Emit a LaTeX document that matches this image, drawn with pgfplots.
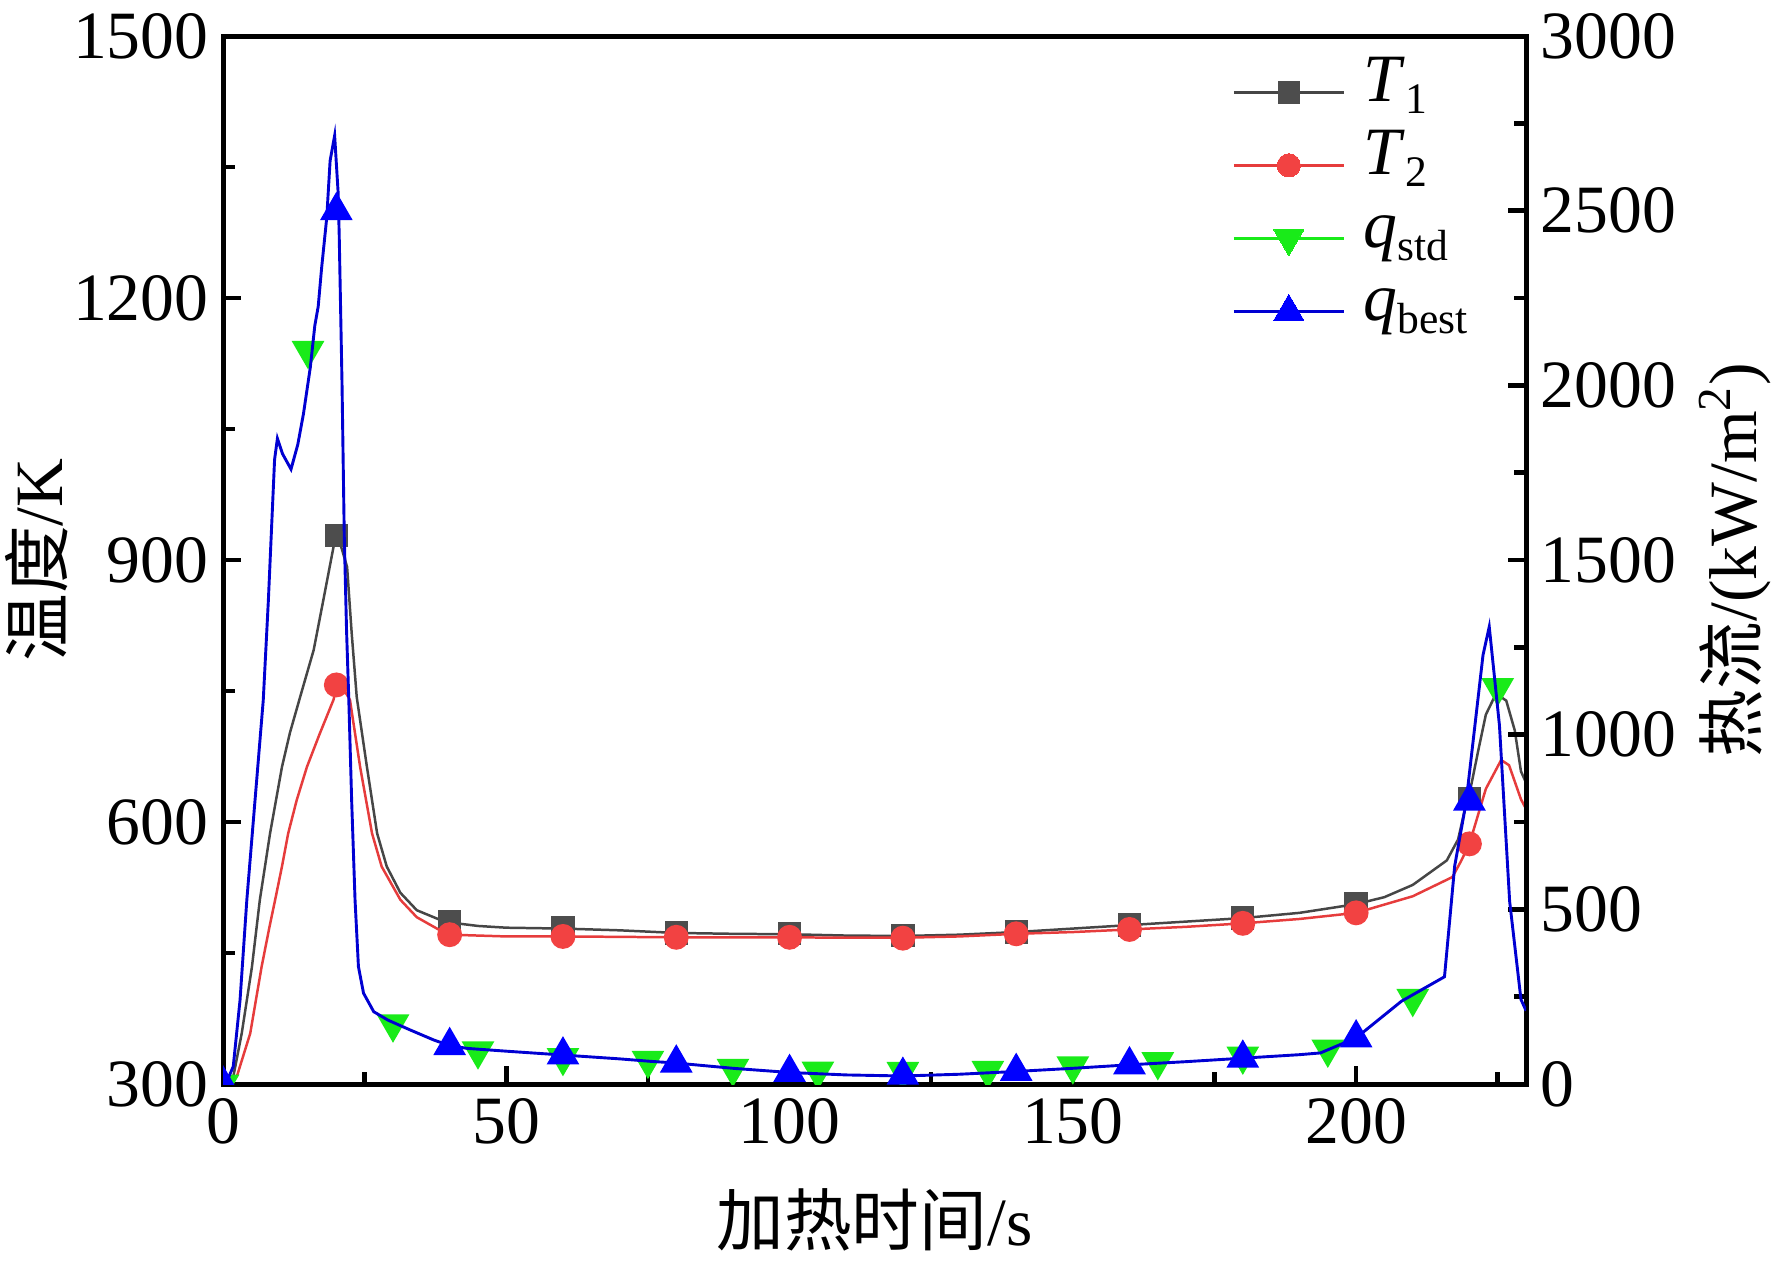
\documentclass[border=0pt]{standalone}
\usepackage{fontspec}
\setmainfont{Liberation Serif}
\newfontfamily\cjk{Noto Sans CJK SC}
\usepackage{pgfplots}
\pgfplotsset{compat=1.18}
\usetikzlibrary{calc}

\definecolor{cT1}{RGB}{77,77,77}
\definecolor{cT1l}{RGB}{70,70,70}
\definecolor{cT2}{RGB}{242,66,66}
\definecolor{cT2l}{RGB}{230,60,60}
\definecolor{cq1}{RGB}{25,235,25}
\definecolor{cq2}{RGB}{0,0,255}
\definecolor{cq2l}{RGB}{0,0,210}

\newcommand{\fs}{\fontsize{16.3}{19.5}\selectfont}
\newcommand{\sub}[1]{\raisebox{-3pt}{\fontsize{10.5}{12}\selectfont #1}}

\begin{document}
\begin{tikzpicture}
\pgfplotsset{
  base/.style={
    width=11.03cm, height=8.871cm, scale only axis,
    xmin=0, xmax=230,
    axis line style={line width=1.2pt},
    major tick length=0.155cm, minor tick length=0.105cm,
    every tick/.style={black, line width=1.1pt},
    tick align=inside,
    tick label style={font=\fs},
    /pgf/number format/assume math mode=true,
    /pgf/number format/1000 sep={},
    scaled ticks=false,
    clip marker paths=true,
  },
  T1s/.style={color=cT1l, line width=0.6pt, mark=square*, mark size=2.6pt, mark options={fill=cT1, draw=cT1, line width=0pt}},
  T2s/.style={color=cT2l, line width=0.6pt, mark=*, mark size=2.8pt, mark options={fill=cT2, draw=cT2, line width=0pt}},
  q1s/.style={color=cq1, line width=0.6pt, mark=triangle*, mark size=4.15pt, mark options={fill=cq1, draw=cq1, line width=0pt, rotate=180}},
  q2s/.style={color=cq2l, line width=0.7pt, mark=triangle*, mark size=4.15pt, mark options={fill=cq2, draw=cq2, line width=0pt}},
}
\begin{axis}[base, name=main,
  ymin=300, ymax=1500,
  xtick={0,50,...,200}, minor xtick={25,75,...,225},
  ytick={300,600,...,1500}, minor ytick={450,750,1050,1350},
  xtick pos=bottom, ytick pos=left,
  xlabel={{\cjk 加热时间}/s}, ylabel={{\cjk 温度}/K},
  every axis x label/.style={at={(0.5,-0.13)}, anchor=center, font=\fs},
  every axis y label/.style={at={(-0.1427,0.5)}, anchor=center, rotate=90, font=\fs},
  ]
% T1 line
\addplot[color=cT1l, line width=0.6pt, forget plot] coordinates {
(0,300)(1,302)(1.8,308)(3.3,358)(5.1,434)(6.5,511)(8.3,587)(10.4,663)(11.8,702)(13.6,743)(16,797)(17.7,854)(19.5,915)(20.1,930)(21,912)(21.9,892)(22.7,817)(23.6,743)(25.4,663)(27.2,587)(28.9,549)(31.3,519)(34.2,499)(38.3,488)(40,485)(45,481)(50,479)(60,478)(70,476)(80,473)(90,472)(100,471.5)(110,470)(120,469.5)(130,471)(140,474)(150,478)(160,482)(170,486)(180,490)(190,496)(200,506)(205,514)(210,528)(216,556)(218,580)(219.4,620)(220,632)(221.5,680)(222.9,723)(224.7,747)(226.5,739)(228,705)(229.1,658)(230,645)
};
\addplot[only marks, mark=square*, mark size=2.6pt, color=cT1, forget plot] coordinates {
(20,928)(40,486)(60,479)(80,473)(100,472)(120,470)(140,474)(160,482)(180,490)(200,506)(220,627)
};
% T2 line
\addplot[color=cT2l, line width=0.6pt, forget plot] coordinates {
(0,300)(1.6,301)(2.5,310)(4.8,358)(6.8,434)(8.2,480)(9.2,511)(10.4,549)(11.5,587)(13,625)(14.8,663)(17,700)(19.5,740)(20.1,757)(21,755)(22.4,740)(24.2,663)(26.3,587)(28,549)(31.3,511)(34.2,491)(38.3,476)(40,471)(50,469)(60,469)(70,468.5)(80,468)(90,468)(100,468)(110,467.5)(120,467.5)(130,469)(140,472)(150,474)(160,477)(170,480)(180,484)(190,489)(200,496)(210,515)(217,537)(218.5,555)(220,575)(222.9,638)(225.6,671)(227,665)(229.1,626)(230,615)
};
\addplot[only marks, mark=*, mark size=2.8pt, color=cT2, forget plot] coordinates {
(20,757)(40,471)(60,469)(80,468)(100,468)(120,467)(140,472)(160,477)(180,484)(200,496)(220,575)
};
\end{axis}

\begin{axis}[base,
  ymin=0, ymax=3000,
  xtick=\empty,
  ytick={0,500,...,3000}, minor ytick={250,750,...,2750},
  ytick pos=right, yticklabel pos=right,
  ylabel={{\cjk 热流}/(kW/m\textsuperscript{2})},
  every axis y label/.style={at={(1.1604,0.5)}, anchor=center, rotate=90, font=\fs},
  legend style={at={(0.774,0.982)}, anchor=north west, draw=none, fill=none, inner sep=0pt,
    font=\fs, row sep=0pt, nodes={inner xsep=4.5pt, inner ysep=0pt, text height=11pt, text depth=6.6pt}},
  legend cell align=left,
  legend image code/.code={\draw[mark repeat=2,mark phase=2] plot coordinates {(0cm,0cm) (0.465cm,0cm) (0.93cm,0cm)};},
  ]
\addlegendimage{T1s}
\addlegendentry{\textit{T}\sub{1}}
\addlegendimage{T2s}
\addlegendentry{\textit{T}\sub{2}}
\addlegendimage{q1s}
\addlegendentry{\textit{q}\sub{std}}
\addlegendimage{q2s}
\addlegendentry{\textit{q}\sub{best}}
% q_std markers
\addplot[only marks, mark=triangle*, mark size=4.15pt, color=cq1, mark options={rotate=180}, forget plot] coordinates {
(0,0)(15,2100)(30,172)(45,95)(60,76)(75,68)(90,45)(105,37)(120,36)(135,39)(150,52)(165,64)(180,80)(195,100)(210,245)(225,1135)
};
% q_best line
\addplot[color=cq2l, line width=0.7pt, forget plot] coordinates {
(0,0)(1,20)(1.8,50)(3,240)(4.2,527)(5.65,813)(7.1,1099)(8,1384)(8.5,1568)(9.1,1788)(9.6,1848)(10.5,1804)(12,1760)(13.2,1831)(14.2,1919)(15.4,2051)(16.2,2171)(16.8,2226)(17.4,2336)(18.3,2479)(18.9,2643)(19.7,2715)(20.3,2556)(20.5,2435)(21,2007)(21.4,1568)(21.8,1300)(22.2,1099)(22.7,813)(23.3,527)(23.9,336)(24.8,260)(26.6,207)(29.1,183)(33,155)(37.2,126)(40,110)(43.1,102)(50,94)(60,83)(70,72)(75.4,65)(80,60)(90,45)(100,33)(110,26)(120,23)(130,28)(140,36)(150,45)(160,55)(170,64)(180,74)(190,84)(193.7,89)(200,132)(208,237)(215.6,307)(217.4,624)(219.4,805)(222.4,1228)(223.5,1309)(225.3,1027)(227.1,523)(229.1,242)(230,210)
};
\addplot[only marks, mark=triangle*, mark size=4.15pt, color=cq2, forget plot] coordinates {
(0,0)(20,2500)(40,110)(60,83)(80,60)(100,33)(120,25)(140,36)(160,55)(180,74)(200,132)(220,810)
};
\end{axis}
\pgfresetboundingbox
\path[use as bounding box] ($(main.south west)+(-1.888cm,-1.524cm)$) rectangle ($(main.north east)+(2.082cm,0.305cm)$);
\end{tikzpicture}
\end{document}
